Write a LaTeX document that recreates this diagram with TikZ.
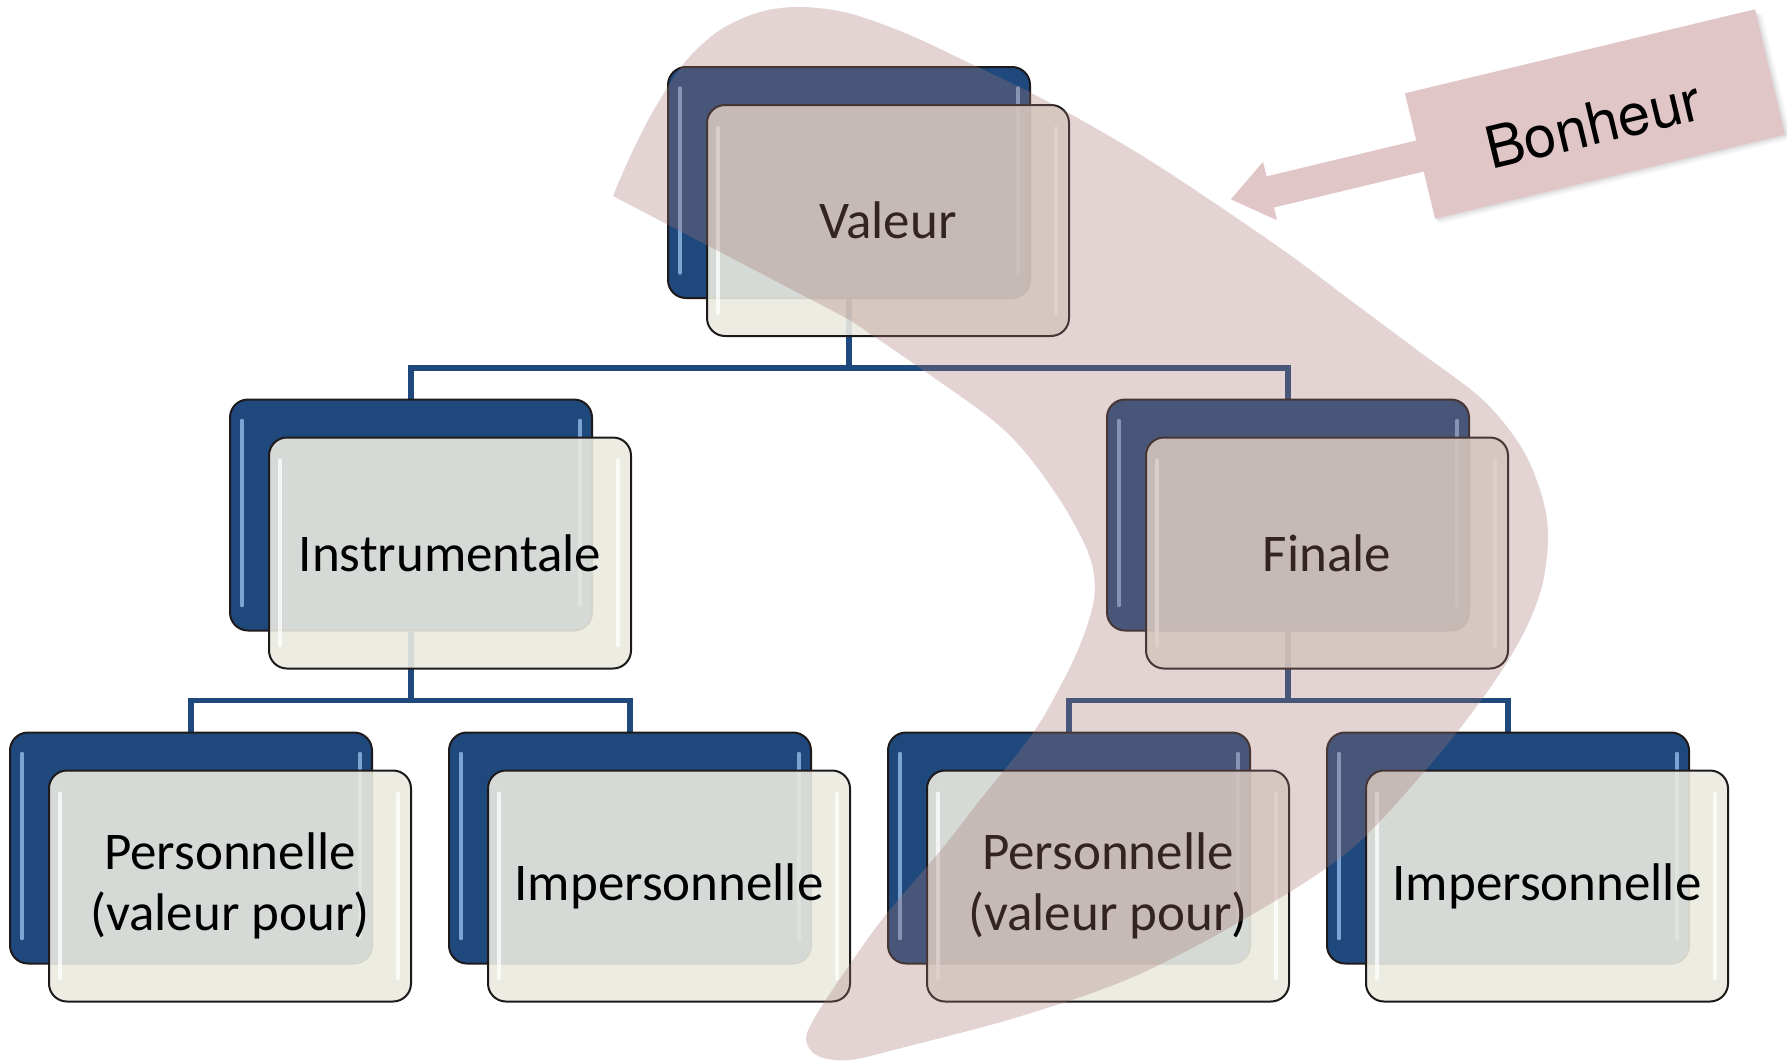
\documentclass[tikz,border=0pt]{standalone}
\usepackage{fontspec}
\setmainfont{Carlito}
\newfontfamily\helvfont{TeX Gyre Heros}
\usetikzlibrary{calc}
\definecolor{navy}{RGB}{31,73,125}
\definecolor{frontfill}{RGB}{234,234,224}
\definecolor{boomer}{RGB}{165,117,115}
\definecolor{tagpink}{RGB}{225,198,200}
\definecolor{hlblue}{RGB}{141,179,226}
\definecolor{outline}{RGB}{30,26,27}
\pgfdeclarelayer{bg}
\pgfdeclarelayer{fg}
\pgfsetlayers{bg,main,fg}
\tikzset{
  backbox/.style={draw=outline, line width=2pt, fill=navy, rounded corners=18pt,
    minimum width=362pt, minimum height=231pt, inner sep=0pt},
  frontbox/.style={draw=outline, line width=2pt, fill=frontfill, fill opacity=0.9,
    text opacity=1, rounded corners=18pt, minimum width=362pt, minimum height=231pt,
    inner sep=0pt, align=center, font=\fontsize{53}{61}\selectfont},
  glossB/.style={draw=hlblue, line width=3.5pt, line cap=round, opacity=0.85},
  glossF/.style={draw=white, line width=4pt, line cap=round, opacity=0.75},
  conn/.style={draw=navy, line width=5.5pt},
  tagbox/.style={fill=tagpink, minimum width=360pt, minimum height=129pt, inner sep=0pt},
  tagtext/.style={font=\helvfont\fontsize{58}{62}\selectfont, inner sep=0pt},
}
\newcommand{\dualbox}[4]{%
  \node[backbox] (#1b) at (#2,#3) {};
  \draw[glossB] ([xshift=13pt,yshift=-22pt]#1b.north west) -- ([xshift=13pt,yshift=26pt]#1b.south west);
  \draw[glossB] ([xshift=-13pt,yshift=-22pt]#1b.north east) -- ([xshift=-13pt,yshift=26pt]#1b.south east);
  \node[frontbox] (#1f) at ([xshift=39pt,yshift=-38pt]#1b.center) {#4};
  \draw[glossF] ([xshift=12pt,yshift=-24pt]#1f.north west) -- ([xshift=12pt,yshift=24pt]#1f.south west);
  \draw[glossF] ([xshift=-14pt,yshift=-24pt]#1f.north east) -- ([xshift=-14pt,yshift=24pt]#1f.south east);
}
\begin{document}
\begin{tikzpicture}[x=1pt,y=-1pt]
\begin{pgfonlayer}{bg}
\fill[white] (0,0) rectangle (1787,1063);
\end{pgfonlayer}
\useasboundingbox (0,0) rectangle (1787,1063);

\dualbox{val}{849}{182.5}{Valeur}
\dualbox{ins}{411}{515}{Instrumentale}
\dualbox{fin}{1288}{515}{Finale}
\dualbox{pl}{191}{848}{Personnelle\\(valeur pour)}
\dualbox{il}{630}{848}{Impersonnelle}
\dualbox{pr}{1069}{848}{Personnelle\\(valeur pour)}
\dualbox{ir}{1508}{848}{Impersonnelle}

\begin{pgfonlayer}{bg}
  \draw[conn] (valb.south) -- ++(0,69) -| (insb.north);
  \draw[conn] (valb.south) -- ++(0,69) -| (finb.north);
  \draw[conn] (insb.south) -- ++(0,69) -| (plb.north);
  \draw[conn] (insb.south) -- ++(0,69) -| (ilb.north);
  \draw[conn] (finb.south) -- ++(0,69) -| (prb.north);
  \draw[conn] (finb.south) -- ++(0,69) -| (irb.north);
\end{pgfonlayer}

\begin{pgfonlayer}{fg}
  % boomerang
  \fill[boomer, fill opacity=0.31] plot[smooth, tension=0.55] coordinates {
    (613,196) (624,170) (638,140) (655,108) (685,62) (720,30) (760,12) (800,7)
    (848,13) (905,33) (963,60) (1039,97) (1116,140) (1180,180) (1283,250)
    (1350,300) (1417,350) (1483,400) (1523,450) (1543,500) (1548,540) (1541,590)
    (1520,640) (1485,695) (1430,765) (1350,850) (1248,917) (1133,977) (1018,1017)
    (905,1047) (850,1060) (818,1056) (806,1040) (815,1017) (846,970) (884,917)
    (941,850) (980,800) (1033,733) (1062,683) (1080,645) (1093,605) (1094,575)
    (1085,545) (1060,500) (1025,452) (990,418) (920,368) (850,320)} -- cycle;
  % Bonheur tag
  \begin{scope}[shift={(1595,114)}, rotate=13.5]
    \foreach \s/\o in {6/0.03,4/0.04,2/0.05}
      \fill[black, opacity=\o, rounded corners=3pt] (-180+\s*0.3,-64.5+\s) rectangle (180+\s,64.5+\s);
  \end{scope}
  \node[tagbox, rotate=13.5] (bon) at (1595,114) {};
  \node[tagtext, rotate=13.5] (bontext) at ([xshift=-2pt,yshift=-10pt]bon.center) {Bonheur};
  \begin{scope}[shift={(bon.center)}, rotate=13.5]
    \fill[tagpink] (-179,-16) -- (-334,-16) -- (-334,-31) -- (-374,-2) -- (-334,29)
      -- (-334,16) -- (-179,16) -- cycle;
  \end{scope}
\end{pgfonlayer}
\end{tikzpicture}
\end{document}
